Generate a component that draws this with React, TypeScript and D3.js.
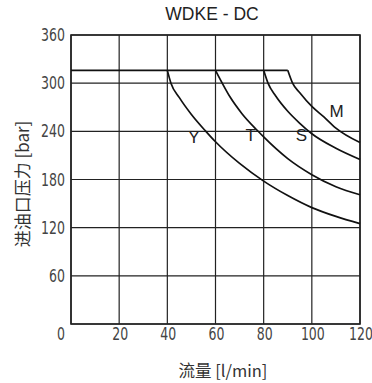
import React from 'react';
import * as d3 from 'd3';

type Pt = [number, number];

// flow (l/min) and pressure (bar)
const xTicks = [0, 20, 40, 60, 80, 100, 120];
const yTicks = [60, 120, 180, 240, 300, 360];

const plateau: Pt[] = [[0, 316], [90, 316]];

const curveY: Pt[] = [[40, 316], [41.5, 300], [45, 282], [50, 261], [56, 240], [60, 227], [70, 200], [80, 178], [90, 160], [100, 145], [110, 134], [120, 125]];
const curveT: Pt[] = [[60, 316], [62.8, 300], [66, 283], [71, 262], [77.4, 241], [80, 233], [90, 206], [100, 186], [110, 171], [120, 161]];
const curveS: Pt[] = [[80, 316], [81.8, 300], [85, 284], [90, 265], [95, 250], [100, 237], [110, 219], [120, 205]];
const curveM: Pt[] = [[90, 316], [92, 300], [95, 288], [100, 271], [105, 258], [110, 244], [120, 226]];

const seriesNames = ['Y', 'T', 'S', 'M'];
const seriesData = [curveY, curveT, curveS, curveM];
const labelPos: Pt[] = [[51, 226], [74.6, 228], [95.7, 228], [110.3, 258]];

const W = 372;
const H = 383;

export default function App() {
  const x = d3.scaleLinear().domain([0, 120]).range([71, 360]);
  const y = d3.scaleLinear().domain([0, 360]).range([324, 35]);

  const line = d3.line<Pt>()
    .x(d => x(d[0]))
    .y(d => y(d[1]))
    .curve(d3.curveMonotoneX);

  const tickFont = '"DejaVu Sans Condensed", "DejaVu Sans", sans-serif';
  const textFont = '"Liberation Sans", Arial, sans-serif';
  const cjkFont = '"Noto Sans CJK SC", sans-serif';

  // narrow, light digits like the original
  const squeeze = 'scale(0.82,1)';

  return (
    <svg width={W} height={H} style={{ position: 'absolute', left: 0, top: 0, background: '#fff' }}>
      {/* grid */}
      <g stroke="#222" strokeWidth={1.2}>
        {xTicks.map(t => (
          <line key={'gx' + t} x1={x(t)} x2={x(t)} y1={y(0)} y2={y(360)} />
        ))}
        {[0, ...yTicks].map(t => (
          <line key={'gy' + t} x1={x(0)} x2={x(120)} y1={y(t)} y2={y(t)} />
        ))}
      </g>
      <rect x={x(0)} y={y(360)} width={x(120) - x(0)} height={y(0) - y(360)} fill="none" stroke="#222" strokeWidth={1.6} />

      {/* curves */}
      <path d={line(plateau) || ''} fill="none" stroke="#111" strokeWidth={1.7} />
      {seriesData.map((s, i) => (
        <path key={seriesNames[i]} d={line(s) || ''} fill="none" stroke="#111" strokeWidth={1.7} />
      ))}
      {seriesNames.map((n, i) => (
        <text key={'l' + n} x={x(labelPos[i][0])} y={y(labelPos[i][1])} textAnchor="middle"
          fontFamily={textFont} fontSize={17} fill="#222">{n}</text>
      ))}

      {/* tick labels */}
      <g fontFamily={tickFont} fontSize={17} fill="#444">
        {yTicks.map(t => (
          <text key={'ty' + t} transform={`translate(65,${y(t) + 6}) ${squeeze}`} textAnchor="end">{t}</text>
        ))}
        {xTicks.map(t => (
          <text key={'tx' + t} transform={`translate(${t === 0 ? x(t) - 10 : x(t) + 1},340) ${squeeze}`} textAnchor="middle">{t}</text>
        ))}
      </g>

      {/* titles */}
      <text x={212} y={20} textAnchor="middle" fontFamily={textFont} fontSize={17.5} fill="#222">WDKE - DC</text>
      <text x={223} y={377} textAnchor="middle" fontFamily={cjkFont} fontSize={16.5} fill="#333">流量 [l/min]</text>
      <text transform={`translate(29,184) rotate(-90)`} textAnchor="middle" fontFamily={cjkFont} fontSize={17} fill="#333">进油口压力 [bar]</text>
    </svg>
  );
}
